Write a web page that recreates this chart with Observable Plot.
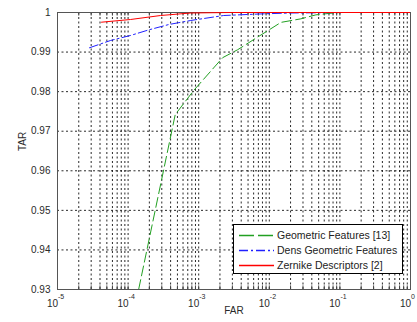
<!DOCTYPE html>
<html>
<head>
<meta charset="utf-8">
<script src="https://cdn.jsdelivr.net/npm/d3@7"></script>
<script src="https://cdn.jsdelivr.net/npm/@observablehq/plot@0.6"></script>
<style>
  body { margin: 0; background: #fff; }
</style>
</head>
<body>
<div id="wrap"></div>
<script>
// ---- data ----
const seriesNames = ["Geometric Features [13]", "Dens Geometric Features", "Zernike Descriptors [2]"];
const seriesColors = ["#22a022", "#2020ff", "#ff0000"];
const seriesDash = ["10,4", "9,3,2,3", null];
const legendDash = ["15,4", "9,3,2,3", null];

const geoFAR = [1.41e-4, 4.65e-4, 8.5e-4, 2.19e-3, 3.57e-3, 1.46e-2, 2.8e-2, 4.57e-2, 8.2e-2, 1.03e-1];
const geoTAR = [0.9300, 0.9742, 0.9803, 0.9886, 0.9906, 0.9975, 0.9984, 0.9994, 0.9999, 1.0];

const densFAR = [2.84e-5, 5.65e-5, 1.08e-4, 1.98e-4, 3.79e-4, 7.7e-4, 2.26e-3, 8.4e-3, 2.0e-2, 1.14e-1];
const densTAR = [0.99109, 0.99293, 0.99419, 0.99563, 0.99697, 0.99798, 0.99924, 0.99967, 0.99987, 1.0];

const zerFAR = [4.2e-5, 1.08e-4, 2.88e-4, 7.7e-4, 2.8e-3, 1.0];
const zerTAR = [0.99755, 0.99823, 0.99924, 0.99987, 1.0, 1.0];

const xTickVals = [1e-5, 1e-4, 1e-3, 1e-2, 1e-1, 1];
const xTickExp = ["-5", "-4", "-3", "-2", "-1", "0"];
const yTickVals = [0.93, 0.94, 0.95, 0.96, 0.97, 0.98, 0.99, 1];
const yTickLabels = ["0.93", "0.94", "0.95", "0.96", "0.97", "0.98", "0.99", "1"];

// minor log grid positions
const xGrid = [];
for (let d = -5; d < 0; d++) for (let k = 1; k <= 9; k++) xGrid.push(k * Math.pow(10, d));
xGrid.push(1);

const toRows = (fx, ty, name) => fx.map((f, i) => ({far: f, tar: ty[i], name}));
const geo = toRows(geoFAR, geoTAR, seriesNames[0]);
const dens = toRows(densFAR, densTAR, seriesNames[1]);
const zer = toRows(zerFAR, zerTAR, seriesNames[2]);

const font = "Liberation Sans, Arial, sans-serif";
const txt = "#2a2a2a";

// legend drawn inside the Plot SVG as a custom render mark
function legendMark(index, scales, values, dims) {
  const left = 233.5, top = 224.5, w = 169, h = 49, rowH = 15;
  const g = d3.create("svg:g").attr("text-anchor", "start");
  g.append("rect").attr("x", left).attr("y", top).attr("width", w).attr("height", h)
    .attr("fill", "white").attr("stroke", "black").attr("stroke-width", 1);
  seriesNames.forEach((name, i) => {
    const cy = top + 11 + i * rowH;
    const ln = g.append("line").attr("x1", left + 5.5).attr("x2", left + 40.5)
      .attr("y1", cy).attr("y2", cy)
      .style("stroke", seriesColors[i]).style("stroke-width", "1.5px");
    if (legendDash[i]) ln.style("stroke-dasharray", legendDash[i]);
    g.append("text").attr("x", left + 43.5).attr("y", cy).attr("dy", "0.35em")
      .attr("text-anchor", "start")
      .attr("fill", "#222").attr("font-size", 10.5).text(name);
  });
  return g.node();
}

const chart = Plot.plot({
  width: 417,
  height: 322,
  marginLeft: 57,
  marginRight: 7,
  marginTop: 12,
  marginBottom: 33,
  style: {fontFamily: font, fontSize: "10px", background: "white", overflow: "visible"},
  x: {type: "log", domain: [1e-5, 1], axis: null},
  y: {domain: [0.93, 1], axis: null},
  marks: [
    Plot.ruleX(xGrid, {x: d => d, y1: 0.93, y2: 1, stroke: "#111", strokeWidth: 0.9, strokeDasharray: "2,2.5"}),
    Plot.ruleY(yTickVals, {y: d => d, x1: 1e-5, x2: 1, stroke: "#111", strokeWidth: 0.9, strokeDasharray: "2,2.5"}),
    Plot.ruleX(xGrid, {x: d => d, y1: 0.93, y2: 0.9309, stroke: "#444"}),
    Plot.ruleX(xGrid, {x: d => d, y1: 0.9991, y2: 1, stroke: "#444"}),
    Plot.frame({stroke: "#555"}),
    Plot.line(geo, {x: "far", y: "tar", stroke: seriesColors[0], strokeWidth: 1, strokeDasharray: seriesDash[0], clip: true}),
    Plot.line(dens, {x: "far", y: "tar", stroke: seriesColors[1], strokeWidth: 1, strokeDasharray: seriesDash[1], clip: true}),
    Plot.line(zer, {x: "far", y: "tar", stroke: seriesColors[2], strokeWidth: 1, clip: true}),
    // x tick labels 10^n
    Plot.text(xTickVals, {x: d => d, y: 0.93, text: () => "10", dy: 14, dx: 0.5, textAnchor: "end", fill: txt, fontSize: 10}),
    Plot.text(xTickVals, {x: d => d, y: 0.93, text: (d, i) => xTickExp[i], dy: 7.5, dx: 0.5, textAnchor: "start", fill: txt, fontSize: 7}),
    // y tick labels
    Plot.text(yTickVals, {x: 1e-5, y: d => d, text: (d, i) => yTickLabels[i], dx: -7, textAnchor: "end", fill: txt, fontSize: 10}),
    // axis labels
    Plot.text(["FAR"], {frameAnchor: "bottom", dy: 24, fill: txt, fontSize: 10}),
    Plot.text(["TAR"], {frameAnchor: "left", dx: -35, rotate: -90, fill: txt, fontSize: 10}),
    legendMark
  ]
});

document.getElementById("wrap").appendChild(chart);
</script>
</body>
</html>
